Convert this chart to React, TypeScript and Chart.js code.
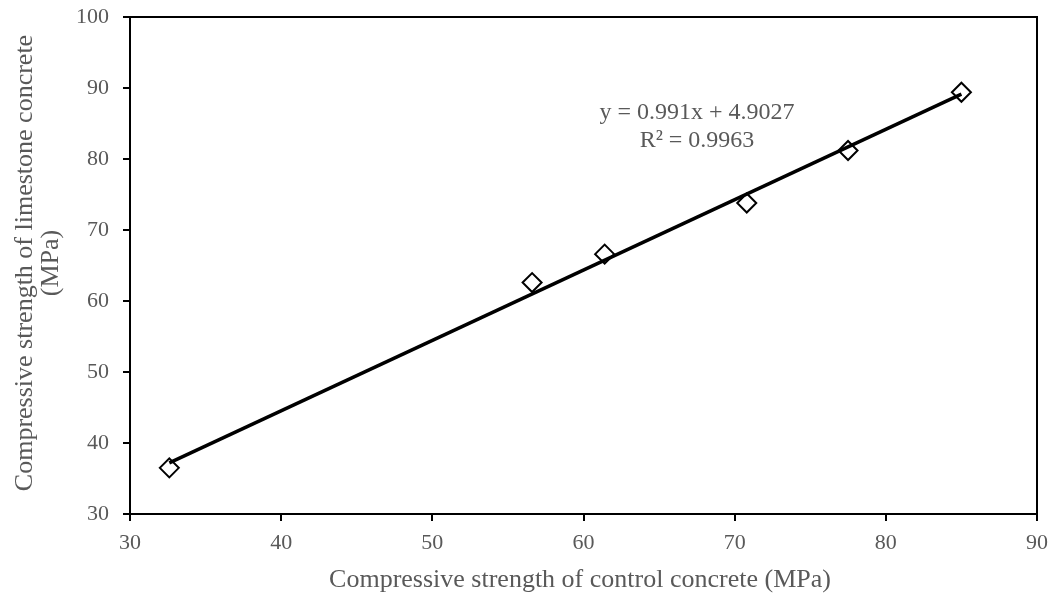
import React, { useEffect, useRef } from "react";
import { Chart, registerables } from "chart.js";

Chart.register(...registerables);

const controlStrength = [32.6, 56.6, 61.4, 70.8, 77.5, 85.0];
const limestoneStrength = [36.5, 62.6, 66.6, 73.8, 81.2, 89.4];
const trendX = [32.6, 85.0];
const trendY = [37.21, 89.14];
const equationLines = ["y = 0.991x + 4.9027", "R² = 0.9963"];
const xTitle = "Compressive strength of control concrete (MPa)";
const yTitleLines = ["Compressive strength of limestone concrete", "(MPa)"];

const FONT = "'Liberation Serif', 'Times New Roman', serif";
const GREY = "#595959";

export default function App() {
  const ref = useRef<HTMLCanvasElement | null>(null);

  useEffect(() => {
    document.body.style.margin = "0";
    const canvas = ref.current!;
    const overlay = {
      id: "overlay",
      afterDraw(chart: any) {
        const { ctx, chartArea } = chart;
        ctx.save();
        ctx.strokeStyle = "#000";
        ctx.lineWidth = 2;
        ctx.beginPath();
        ctx.moveTo(chartArea.left, chartArea.top);
        ctx.lineTo(chartArea.right, chartArea.top);
        ctx.lineTo(chartArea.right, chartArea.bottom);
        ctx.stroke();
        ctx.fillStyle = GREY;
        ctx.textAlign = "center";
        ctx.textBaseline = "middle";
        ctx.font = `24px ${FONT}`;
        ctx.fillText(equationLines[0], 697, 113);
        ctx.fillText(equationLines[1], 697, 141);
        ctx.font = `26px ${FONT}`;
        ctx.fillText(xTitle, 580, 580);
        ctx.save();
        ctx.translate(25, 263);
        ctx.rotate(-Math.PI / 2);
        ctx.fillText(yTitleLines[0], 0, 0);
        ctx.restore();
        ctx.save();
        ctx.translate(51, 263);
        ctx.rotate(-Math.PI / 2);
        ctx.fillText(yTitleLines[1], 0, 0);
        ctx.restore();
        ctx.restore();
      },
    };

    const chart = new Chart(canvas, {
      type: "scatter",
      data: {
        datasets: [
          {
            type: "line",
            data: trendX.map((x, i) => ({ x, y: trendY[i] })),
            borderColor: "#000",
            borderWidth: 3.5,
            pointRadius: 0,
            fill: false,
          },
          {
            data: controlStrength.map((x, i) => ({ x, y: limestoneStrength[i] })),
            pointStyle: "rectRot",
            pointRadius: 9.5,
            backgroundColor: "#fff",
            borderColor: "#000",
            borderWidth: 2,
          },
        ] as any,
      },
      options: {
        responsive: false,
        animation: false,
        layout: { padding: { top: 17, right: 19, left: 0, bottom: 0 } },
        plugins: { legend: { display: false }, tooltip: { enabled: false } },
        scales: {
          x: {
            type: "linear",
            min: 30,
            max: 90,
            afterFit: (s: any) => { s.height = 85; s.paddingLeft = 0; s.paddingRight = 0; },
            ticks: { stepSize: 10, color: GREY, font: { family: FONT, size: 22 }, padding: 9 },
            grid: { drawOnChartArea: false, drawTicks: true, tickLength: 7, color: "#000", lineWidth: 2 },
            border: { color: "#000", width: 2 },
          },
          y: {
            type: "linear",
            min: 30,
            max: 100,
            afterFit: (s: any) => { s.width = 130; s.paddingTop = 0; s.paddingBottom = 0; },
            ticks: { stepSize: 10, color: GREY, font: { family: FONT, size: 22 }, padding: 14 },
            grid: { drawOnChartArea: false, drawTicks: true, tickLength: 7, color: "#000", lineWidth: 2 },
            border: { color: "#000", width: 2 },
          },
        },
      },
      plugins: [overlay],
    });
    return () => chart.destroy();
  }, []);

  return <canvas ref={ref} width={1056} height={599} style={{ display: "block" }} />;
}
